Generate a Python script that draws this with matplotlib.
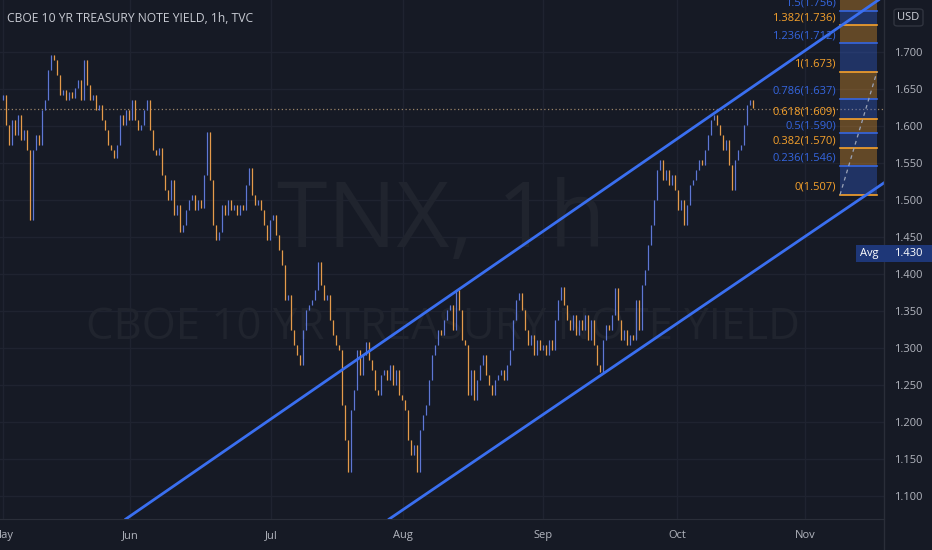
import matplotlib
matplotlib.use("Agg")
import matplotlib.pyplot as plt
from matplotlib.collections import LineCollection
from matplotlib.patches import Rectangle, FancyBboxPatch
from matplotlib.lines import Line2D

# ---------------- data ----------------
title = "CBOE 10 YR TREASURY NOTE YIELD, 1h, TVC"
watermark_symbol = "TNX, 1h"
watermark_name = "CBOE 10 YR TREASURY NOTE YIELD"

yield_values = [
    1.635, 1.642, 1.601, 1.574, 1.608, 1.588, 1.615, 1.581, 1.595, 1.568,
    1.473, 1.568, 1.588, 1.574, 1.622, 1.635, 1.676, 1.696, 1.689, 1.669,
    1.642, 1.649, 1.635, 1.646, 1.638, 1.651, 1.662, 1.635, 1.689, 1.655,
    1.635, 1.642, 1.622, 1.628, 1.608, 1.595, 1.574, 1.568, 1.557, 1.574,
    1.615, 1.601, 1.622, 1.608, 1.635, 1.608, 1.595, 1.601, 1.622, 1.635,
    1.595, 1.568, 1.561, 1.570, 1.534, 1.514, 1.500, 1.527, 1.480, 1.493,
    1.457, 1.466, 1.486, 1.500, 1.507, 1.486, 1.500, 1.489, 1.534, 1.592,
    1.527, 1.466, 1.446, 1.457, 1.493, 1.480, 1.500, 1.486, 1.493, 1.480,
    1.493, 1.486, 1.520, 1.543, 1.507, 1.493, 1.500, 1.486, 1.466, 1.446,
    1.473, 1.480, 1.453, 1.432, 1.412, 1.365, 1.372, 1.324, 1.304, 1.291,
    1.277, 1.324, 1.351, 1.358, 1.365, 1.378, 1.416, 1.385, 1.365, 1.372,
    1.338, 1.318, 1.304, 1.297, 1.223, 1.176, 1.132, 1.216, 1.243, 1.297,
    1.264, 1.291, 1.308, 1.284, 1.270, 1.243, 1.236, 1.264, 1.270, 1.257,
    1.277, 1.250, 1.270, 1.236, 1.230, 1.216, 1.176, 1.155, 1.169, 1.132,
    1.189, 1.209, 1.223, 1.257, 1.291, 1.304, 1.324, 1.318, 1.338, 1.351,
    1.358, 1.324, 1.378, 1.351, 1.311, 1.304, 1.236, 1.270, 1.230, 1.257,
    1.277, 1.291, 1.264, 1.250, 1.236, 1.257, 1.264, 1.270, 1.257, 1.277,
    1.297, 1.338, 1.365, 1.374, 1.351, 1.324, 1.304, 1.318, 1.291, 1.311,
    1.297, 1.304, 1.291, 1.311, 1.297, 1.338, 1.365, 1.382, 1.358, 1.338,
    1.324, 1.345, 1.318, 1.338, 1.324, 1.345, 1.311, 1.338, 1.304, 1.277,
    1.268, 1.311, 1.331, 1.324, 1.345, 1.381, 1.338, 1.311, 1.324, 1.304,
    1.318, 1.311, 1.365, 1.324, 1.385, 1.405, 1.439, 1.466, 1.500, 1.541,
    1.554, 1.527, 1.541, 1.520, 1.534, 1.514, 1.486, 1.500, 1.466, 1.493,
    1.520, 1.527, 1.541, 1.554, 1.547, 1.568, 1.588, 1.608, 1.615, 1.601,
    1.588, 1.568, 1.581, 1.547, 1.514, 1.554, 1.568, 1.574, 1.601, 1.628,
    1.635, 1.624,
]

month_labels = ["May", "Jun", "Jul", "Aug", "Sep", "Oct", "Nov"]
month_pos = [1.0, 43.3, 90.3, 134.3, 181.0, 225.7, 268.3]

price_ticks = [1.10, 1.15, 1.20, 1.25, 1.30, 1.35, 1.40, 1.45, 1.50,
               1.55, 1.60, 1.65, 1.70]

channel_upper = [(42.0, 1.069), (292.7, 1.770)]
channel_lower = [(129.8, 1.069), (287.7, 1.504)]

fib_ratios = [0, 0.236, 0.382, 0.5, 0.618, 0.786, 1, 1.236, 1.382, 1.5, 1.618]
fib_prices = [1.507, 1.546, 1.570, 1.590, 1.609, 1.637, 1.673, 1.712,
              1.736, 1.756, 1.776]
fib_start = (280.0, 1.507)
fib_end = (292.3, 1.673)

last_price = 1.6235
avg_price = 1.430

# ---------------- style ----------------
W, H = 932, 550
BG = "#161a25"
GRID = "#1f2330"
SEP = "#2a2e39"
TXT = "#b2b5be"
UP = "#3568e8"
DOWN = "#f39a25"
ORANGE = "#f7a22c"
BLUE = "#3566e0"
CHAN = "#3a6ff0"
FONT = ["Open Sans", "DejaVu Sans"]
WFONT = ["Open Sans", "DejaVu Sans"]

plt.rcParams["font.family"] = FONT

fig = plt.figure(figsize=(W / 100, H / 100), dpi=100, facecolor=BG)

def fx(px):
    return px / W

def fy(py):
    return 1 - py / H

plot_right = 884
plot_bottom = 519
ax = fig.add_axes([0, fy(plot_bottom), fx(plot_right), plot_bottom / H])
ax.set_facecolor(BG)

xmax = plot_right / 3.0
ax.set_xlim(0, xmax)
ax.set_ylim(1.0689, 1.7703)

# grid
for p in price_ticks:
    ax.axhline(p, color=GRID, lw=1, zorder=0)
for m in month_pos:
    ax.axvline(m, color=GRID, lw=1, zorder=0)

# watermark
ax.text(fx(441.5), fy(247), watermark_symbol, transform=fig.transFigure,
        ha="center", va="baseline", fontsize=66, color="#20242e",
        family=WFONT, zorder=0.5)
ax.text(fx(443), fy(339), watermark_name, transform=fig.transFigure,
        ha="center", va="baseline", fontsize=31.5, color="#20242e",
        family=WFONT, zorder=0.5)

# candles
segs, cols = [], []
for i in range(1, len(yield_values)):
    a, b = yield_values[i - 1], yield_values[i]
    segs.append([(i, a), (i, b)])
    cols.append(UP if b >= a else DOWN)
lc = LineCollection(segs, colors=cols, linewidths=0.9, zorder=2)
ax.add_collection(lc)
wick = LineCollection(segs, colors="#c39aa6", linewidths=0.4, alpha=0.55,
                      zorder=2.1)
ax.add_collection(wick)

# last price dotted line
ax.axhline(last_price, color="#9a8468", lw=0.9, ls=(0, (1, 2)), zorder=1.5)

# channel lines
ax.axline(channel_upper[0], channel_upper[1], color=CHAN, lw=2.0, zorder=3)
ax.axline(channel_lower[0], channel_lower[1], color=CHAN, lw=2.0, zorder=3)

# fib retracement
fx0, fx1 = fib_start[0], fib_end[0]
for k in range(1, len(fib_prices)):
    c = ORANGE if k % 2 == 0 else BLUE
    ax.fill_between([fx0, fx1], fib_prices[k - 1], fib_prices[k],
                    color=c, alpha=0.34, lw=0, zorder=2.5)
for k, (r, p) in enumerate(zip(fib_ratios, fib_prices)):
    c = ORANGE if k % 2 == 0 else BLUE
    ax.plot([fx0, fx1], [p, p], color=c, lw=1.2, zorder=2.6)
    ax.annotate(f"{r:g}({p:.3f})", xy=(fx0, p), xytext=(-3, 5.4),
                textcoords="offset points", ha="right", va="center",
                fontsize=8, color=c, zorder=4, annotation_clip=True)
ax.plot([fib_start[0], fib_end[0]], [fib_start[1], fib_end[1]],
        color="#9aa3b8", lw=0.9, ls=(0, (3, 3)), zorder=2.7)

# axes cosmetics
for s in ["top", "left", "right"]:
    ax.spines[s].set_visible(False)
ax.spines["bottom"].set_color(SEP)
ax.yaxis.tick_right()
ax.set_yticks(price_ticks)
ax.set_yticklabels([f"{p:.3f}" for p in price_ticks])
ax.tick_params(axis="y", length=0, pad=7.2, labelsize=8, labelcolor=TXT)
ax.set_xticks(month_pos)
ax.set_xticklabels(month_labels)
ax.tick_params(axis="x", length=0, pad=7.8, labelsize=8, labelcolor=TXT)

# vertical separator of price scale
fig.add_artist(Line2D([fx(plot_right), fx(plot_right)], [0, 1],
                      color=SEP, lw=1, transform=fig.transFigure))

# title
fig.text(fx(7), fy(18), title, ha="left", va="center", fontsize=8.7,
         color="#c8cbd3")

# USD box
fig.add_artist(FancyBboxPatch((fx(894), fy(26)), fx(29), 17 / H,
                              boxstyle="round,pad=0,rounding_size=0.004",
                              facecolor=BG, edgecolor="#30343f", lw=1,
                              transform=fig.transFigure))
fig.text(fx(908.5), fy(17.5), "USD", ha="center", va="center",
         fontsize=8, color="#d1d4dc")

# Avg label
fig.add_artist(Rectangle((fx(856), fy(262)), fx(76), 17 / H,
                         facecolor="#1e3778", edgecolor="none",
                         transform=fig.transFigure, zorder=5))
fig.text(fx(869), fy(253.5), "Avg", ha="center", va="center",
         fontsize=8, color="white", zorder=6)
fig.text(fx(894), fy(253.5), f"{avg_price:.3f}", ha="left", va="center",
         fontsize=8, color="white", zorder=6)

fig.savefig("out.png", dpi=100, facecolor=BG)
